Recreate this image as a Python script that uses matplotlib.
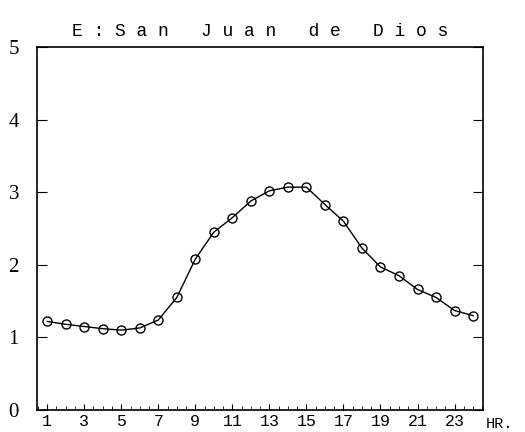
import matplotlib
matplotlib.use("Agg")
import matplotlib.pyplot as plt
from matplotlib.ticker import MultipleLocator

hours = list(range(1, 25))
values = [1.22, 1.18, 1.15, 1.12, 1.10, 1.13, 1.24, 1.55, 2.08, 2.45, 2.65, 2.88,
          3.02, 3.07, 3.07, 2.83, 2.60, 2.23, 1.97, 1.85, 1.66, 1.55, 1.37, 1.30]
xticks = list(range(1, 24, 2))
yticks = [0, 1, 2, 3, 4, 5]
title = "E : S a n   J u a n   d e   D i o s"

plt.rcParams['font.family'] = ['Liberation Mono', 'DejaVu Sans Mono']

fig = plt.figure(figsize=(5.25, 4.32), dpi=100)
ax = fig.add_axes([0.0705, 0.051, 0.85, 0.84])

ax.plot(hours, values, color='black', lw=1.0,
        marker='o', ms=6.5, mfc='none', mec='black', mew=1.0)

ax.set_xlim(0.45, 24.55)
ax.set_ylim(0, 5)
ax.set_xticks(xticks)
ax.set_xticklabels([str(t) for t in xticks], fontsize=12)
ax.xaxis.set_minor_locator(MultipleLocator(0.5))
ax.set_yticks(yticks)
ax.set_yticklabels([str(t) for t in yticks], fontsize=15, family='Liberation Serif')
ax.tick_params(axis='x', which='major', direction='in', length=4, pad=3, top=False)
ax.tick_params(axis='x', which='minor', direction='in', length=3, top=False)
ax.tick_params(axis='y', direction='in', length=7, pad=13, right=True)
for s in ax.spines.values():
    s.set_linewidth(1.2)

ax.text(1.005, -0.02, "HR.", transform=ax.transAxes, fontsize=11,
        ha='left', va='top')
ax.set_title(title, fontsize=13, pad=8)

fig.savefig("out.png", dpi=100)
